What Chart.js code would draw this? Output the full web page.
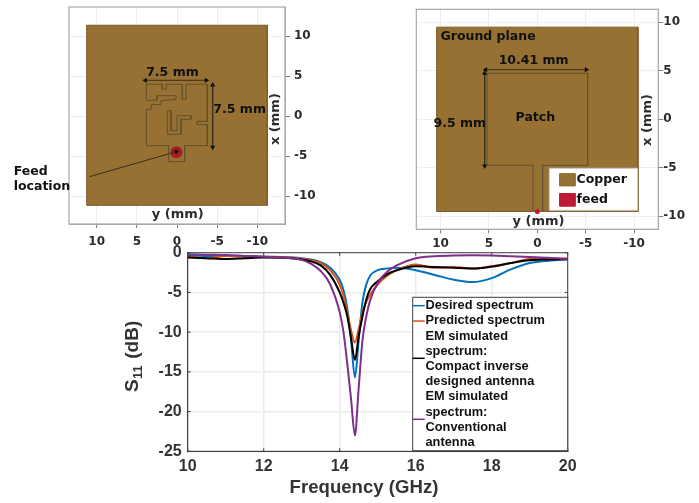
<!DOCTYPE html>
<html>
<head>
<meta charset="utf-8">
<script src="https://cdn.jsdelivr.net/npm/chart.js@4"></script>
<style>
  html, body { margin: 0; background: #fff; }
  canvas { position: absolute; left: 0; top: 0; }
</style>
</head>
<body>
<canvas id="left" width="699" height="503"></canvas>
<canvas id="right" width="699" height="503"></canvas>
<canvas id="main" width="699" height="503"></canvas>
<script>
// S11 spectra
const freq = [10, 10.5, 11, 11.5, 12, 12.5, 13, 13.25, 13.5, 13.75, 14, 14.1, 14.2, 14.3, 14.4, 14.5, 14.6, 14.7, 14.8, 15, 15.25, 15.5, 16, 16.5, 17, 17.5, 18, 18.5, 19, 19.5, 20];
const desired = [-0.3, -0.4, -0.4, -0.4, -0.5, -0.55, -0.7, -0.85, -1.2, -1.9, -3.4, -4.7, -7, -11, -15.7, -11, -6.2, -4, -2.9, -2.2, -2, -1.9, -2.2, -2.8, -3.4, -3.7, -3.2, -2.1, -1.3, -1, -0.85];
const predicted = [-0.5, -0.7, -0.4, -0.5, -0.5, -0.55, -0.75, -0.95, -1.3, -2.2, -4, -5.4, -7.5, -9.8, -11.3, -9.6, -7.5, -6.2, -5.3, -4, -2.9, -2.2, -1.5, -1.9, -1.8, -2, -1.7, -1.3, -0.8, -0.75, -0.7];
const simulated = [-0.6, -0.7, -0.8, -0.7, -0.6, -0.65, -0.85, -1.1, -1.6, -2.8, -5, -6.3, -8, -10.8, -13.5, -10.5, -8, -5.9, -4.6, -3.6, -2.7, -2.2, -1.7, -1.8, -1.9, -2, -1.75, -1.3, -0.95, -0.85, -0.8];
const conventional = [-0.2, -0.25, -0.3, -0.4, -0.5, -0.6, -0.9, -1.4, -2.3, -4, -7.5, -10, -14, -18.5, -23, -17, -11, -8, -6, -3.8, -2.4, -1.6, -0.7, -0.45, -0.35, -0.33, -0.35, -0.45, -0.55, -0.65, -0.8];
const freqTicks = [10, 12, 14, 16, 18, 20];
const s11Ticks = [0, -5, -10, -15, -20, -25];
const mmTicksX = [10, 5, 0, -5, -10];
const mmTicksY = [10, 5, 0, -5, -10];

// compact antenna, (y, x) in mm
const boardY = [11.25, -11.25, -11.25, 11.25, 11.25];
const boardX = [11.38, 11.38, -11.13, -11.13, 11.38];
const compactY = [3.82, 1.83, 1.83, 1.33, 1.33, -0.66, -0.66, -1.12, -1.12, -3.78, -3.78, -2.53, -2.53, -3.78, -3.78, -0.95, -0.95, 1.04, 1.04, 3.82, 3.82, 3.2, 3.2, 1.99, 1.99, 0.12, 0.12, 2.49, 2.49, 3.82, 3.82];
const compactX = [4, 4, 3.38, 3.38, 4, 4, 2.13, 2.13, 4, 4, -0.63, -0.63, -1.04, -1.04, -3.67, -3.67, -5.67, -5.67, -3.67, -3.67, 0.88, 0.88, 1.46, 1.46, 1.96, 2.13, 2.58, 2.58, 2, 2, 4];
const slotY = [1.2, 0.75, 0.75, 0, 0, -1.74, -1.74, -0.5, -0.5, 1.2, 1.2];
const slotX = [0.71, 0.71, -1.79, -1.79, 0.08, 0.08, -0.38, -0.38, -2.25, -2.25, 0.71];

// conventional antenna, (y, x) in mm
const groundY = [10.4, -10.4, -10.4, 10.4, 10.4];
const groundX = [9.5, 9.5, -9.5, -9.5, 9.5];
const patchY = [0.45, 0.45, 5.2, 5.2, -5.2, -5.2, -0.55, -0.55];
const patchX = [-9.5, -4.75, -4.75, 4.75, 4.75, -4.75, -4.75, -9.5];
const keyBoxY = [-1.24, -10.35, -10.35, -1.24, -1.24];
const keyBoxX = [-5.05, -5.05, -9.38, -9.38, -5.05];
const copperKeyY = [-2.3, -3.9, -3.9, -2.3, -2.3];
const copperKeyX = [-5.6, -5.6, -6.87, -6.87, -5.6];
const feedKeyY = [-2.3, -3.9, -3.9, -2.3, -2.3];
const feedKeyX = [-7.65, -7.65, -8.96, -8.96, -7.65];

const COPPER = '#977033';
const EDGE = '#65502a';
const MM_FONT = "'DejaVu Sans'";
const PLOT_FONT = "'Liberation Sans'";

function path(ys, xs, opts) {
  return Object.assign({
    data: ys.map((y, i) => ({x: y, y: xs[i]})),
    showLine: true,
    pointRadius: 0,
    borderColor: EDGE,
    borderWidth: 1,
    fill: false
  }, opts);
}

function arrow(ys, xs, rotations, radii) {
  return {
    data: ys.map((y, i) => ({x: y, y: xs[i]})),
    showLine: true,
    borderColor: '#3a2f18',
    borderWidth: 1,
    pointStyle: 'triangle',
    pointRadius: radii || 3,
    pointRotation: rotations,
    pointBackgroundColor: '#111',
    pointBorderColor: '#111',
    pointBorderWidth: 0,
    fill: false
  };
}

function dot(y, x, radius, color) {
  return {
    data: [{x: y, y: x}],
    pointRadius: radius,
    pointBackgroundColor: color,
    pointBorderWidth: 0
  };
}

function notesPlugin(notes) {
  return {
    id: 'notes',
    afterDatasetsDraw(chart) {
      const {ctx, chartArea: a, scales} = chart;
      ctx.save();
      ctx.strokeStyle = '#a8a8a8';
      ctx.lineWidth = 1.2;
      ctx.strokeRect(a.left, a.top, a.width, a.height);
      ctx.textBaseline = 'middle';
      notes.forEach(n => {
        ctx.save();
        ctx.translate(scales.x.getPixelForValue(n.y), scales.y.getPixelForValue(n.x));
        if (n.rotate) ctx.rotate(n.rotate);
        ctx.font = `bold ${n.size || 12.5}px ${MM_FONT}`;
        ctx.fillStyle = n.color || '#111';
        ctx.textAlign = n.align || 'center';
        ctx.fillText(n.text, 0, 0);
        ctx.restore();
      });
      ctx.restore();
    }
  };
}

function mmChart(id, box, limY, limX, pad, datasets, notes) {
  const tickFont = {family: MM_FONT, weight: 'bold', size: 12};
  new Chart(document.getElementById(id), {
    type: 'scatter',
    data: {datasets},
    plugins: [notesPlugin(notes)],
    options: {
      responsive: false,
      animation: false,
      devicePixelRatio: 1,
      layout: {padding: {left: box.left, top: box.top, right: 0, bottom: 0}},
      plugins: {legend: {display: false}, tooltip: {enabled: false}},
      scales: {
        x: {
          type: 'linear', reverse: true, min: -limY, max: limY, position: 'bottom',
          afterBuildTicks: s => { s.ticks = mmTicksX.map(value => ({value})); },
          afterFit: s => { s.height = 503 - box.bottom; s.paddingLeft = 0; s.paddingRight = 0; },
          grid: {color: '#eeeeee', lineWidth: 1, tickColor: '#808080', tickLength: 4},
          border: {color: '#a8a8a8'},
          ticks: {font: tickFont, color: '#2b2b2b', maxRotation: 0, autoSkip: false, padding: pad.x}
        },
        y: {
          type: 'linear', min: limX[0], max: limX[1], position: 'right',
          afterBuildTicks: s => { s.ticks = mmTicksY.map(value => ({value})); },
          afterFit: s => { s.width = 699 - box.right; s.paddingTop = 0; s.paddingBottom = 0; },
          grid: {color: '#eeeeee', lineWidth: 1, tickColor: '#808080', tickLength: 5},
          border: {color: '#a8a8a8'},
          ticks: {font: tickFont, color: '#2b2b2b', autoSkip: false, padding: pad.y}
        }
      }
    }
  });
}

mmChart('left', {left: 69, top: 7, right: 285, bottom: 224}, 13.45, [-13.46, 13.66], {x: 7, y: 4}, [
  arrow([10.87, 0.08], [-7.54, -4.42], [0, 70], [0, 3]),
  arrow([3.94, -3.65], [4.5, 4.5], [-90, 90]),
  arrow([-4.44, -4.44], [3.92, -3.87], [0, 180]),
  dot(0.08, -4.5, 6, '#a51c24'),
  path(slotY, slotX),
  path(compactY, compactX),
  path(boardY, boardX, {fill: 'shape', backgroundColor: COPPER, borderColor: '#7d5d2a'})
], [
  {text: '7.5 mm', y: 0.57, x: 5.4},
  {text: '7.5 mm', y: -7.8, x: 0.8},
  {text: 'Feed', y: 20.34, x: -6.93, align: 'left'},
  {text: 'location', y: 20.34, x: -8.8, align: 'left'},
  {text: 'y (mm)', y: -0.1, x: -12.3, size: 13, color: '#2b2b2b'},
  {text: 'x (mm)', y: -12.3, x: -0.35, size: 13, color: '#2b2b2b', rotate: -Math.PI / 2}
]);

mmChart('right', {left: 416.3, top: 9.3, right: 658.3, bottom: 229.3}, 12.5, [-11.34, 11.34], {x: 3, y: 0}, [
  dot(0, -9.5, 2.5, '#c0172f'),
  arrow([5.33, -5.06], [5.12, 5.12], [-90, 90]),
  arrow([5.44, 5.44], [4.74, -4.81], [0, 180]),
  path(copperKeyY, copperKeyX, {fill: 'shape', backgroundColor: COPPER, borderColor: COPPER}),
  path(feedKeyY, feedKeyX, {fill: 'shape', backgroundColor: '#bd1a35', borderColor: '#bd1a35'}),
  path(keyBoxY, keyBoxX, {fill: 'shape', backgroundColor: '#ffffff', borderColor: '#c8c8c8'}),
  path(patchY, patchX),
  path(groundY, groundX, {fill: 'shape', backgroundColor: COPPER, borderColor: '#7d5d2a'})
], [
  {text: 'Ground plane', y: 10, x: 8.5, align: 'left'},
  {text: '10.41 mm', y: 0.38, x: 6},
  {text: 'Patch', y: 0.2, x: 0.2},
  {text: '9.5 mm', y: 8, x: -0.5},
  {text: 'Copper', y: -4.05, x: -6.2, align: 'left'},
  {text: 'feed', y: -4.05, x: -8.25, align: 'left'},
  {text: 'y (mm)', y: -0.13, x: -10.55, size: 13, color: '#2b2b2b'},
  {text: 'x (mm)', y: -11.35, x: -0.07, size: 13, color: '#2b2b2b', rotate: -Math.PI / 2}
]);

const spectra = [
  {lines: ['Desired spectrum'], swatch: 305.7, values: desired, color: '#0072bd', order: 4},
  {lines: ['Predicted spectrum'], swatch: 321, values: predicted, color: '#d95319', order: 3},
  {lines: ['EM simulated', 'spectrum:', 'Compact inverse', 'designed antenna'], swatch: 358.3, values: simulated, color: '#000000', order: 2},
  {lines: ['EM simulated', 'spectrum:', 'Conventional', 'antenna'], swatch: 419.3, values: conventional, color: '#7e2f8e', order: 1}
];

const framePlugin = {
  id: 'frame',
  afterDatasetsDraw(chart) {
    const {ctx, chartArea: a, scales} = chart;
    ctx.save();
    ctx.strokeStyle = '#404040';
    ctx.lineWidth = 1;
    ctx.strokeRect(a.left, a.top, a.width, a.height);
    // inward ticks
    ctx.beginPath();
    freqTicks.forEach(v => {
      const px = scales.x.getPixelForValue(v);
      ctx.moveTo(px, a.bottom); ctx.lineTo(px, a.bottom - 3);
      ctx.moveTo(px, a.top); ctx.lineTo(px, a.top + 3);
    });
    s11Ticks.forEach(v => {
      const py = scales.y.getPixelForValue(v);
      ctx.moveTo(a.left, py); ctx.lineTo(a.left + 3, py);
      ctx.moveTo(a.right, py); ctx.lineTo(a.right - 3, py);
    });
    ctx.stroke();

    // legend
    const lx = 412.7, ly = 297.3, lw = 155, lh = 153.4, rowH = 15.2;
    ctx.fillStyle = '#fff';
    ctx.fillRect(lx, ly, lw, lh);
    ctx.strokeStyle = '#404040';
    ctx.strokeRect(lx, ly, lw, lh);
    ctx.font = `bold 12.8px ${PLOT_FONT}`;
    ctx.textBaseline = 'middle';
    ctx.textAlign = 'left';
    let row = 0;
    spectra.forEach(s => {
      ctx.strokeStyle = s.color;
      ctx.lineWidth = 1.5;
      ctx.beginPath();
      ctx.moveTo(lx, s.swatch); ctx.lineTo(lx + 12, s.swatch);
      ctx.stroke();
      ctx.fillStyle = '#111';
      s.lines.forEach(t => {
        ctx.fillText(t, 425.5, ly + 8.4 + row * rowH);
        row++;
      });
    });

    // x axis title sits left of the plot centre in the original
    ctx.fillStyle = '#333';
    ctx.textAlign = 'center';
    ctx.font = `bold 18.6px ${PLOT_FONT}`;
    ctx.fillText('Frequency (GHz)', 364, 488);

    // S11 (dB), rotated with a subscript
    ctx.translate(133, 356);
    ctx.rotate(-Math.PI / 2);
    ctx.textAlign = 'left';
    ctx.font = `bold 19px ${PLOT_FONT}`;
    ctx.fillText('S', -36, 0);
    ctx.font = `bold 13px ${PLOT_FONT}`;
    ctx.fillText('11', -23, 5);
    ctx.font = `bold 19px ${PLOT_FONT}`;
    ctx.fillText(' (dB)', -8, 0);
    ctx.restore();
  }
};

const plotFont = {family: PLOT_FONT, weight: 'bold', size: 16};
new Chart(document.getElementById('main'), {
  type: 'line',
  data: {
    datasets: spectra.map(s => ({
      label: s.lines.join(' '),
      data: freq.map((f, i) => ({x: f, y: s.values[i]})),
      borderColor: s.color,
      borderWidth: 2,
      pointRadius: 0,
      cubicInterpolationMode: 'monotone',
      order: s.order
    }))
  },
  plugins: [framePlugin],
  options: {
    responsive: false,
    animation: false,
    devicePixelRatio: 1,
    layout: {padding: {left: 0, top: 252.7, right: 131.3, bottom: 0}},
    plugins: {legend: {display: false}, tooltip: {enabled: false}},
    scales: {
      x: {
        type: 'linear', min: 10, max: 20,
        afterBuildTicks: s => { s.ticks = freqTicks.map(value => ({value})); },
        afterFit: s => { s.height = 503 - 451.3; },
        grid: {color: '#ebebeb', lineWidth: 1.5, drawTicks: false},
        border: {color: '#404040'},
        ticks: {font: plotFont, color: '#333', maxRotation: 0, autoSkip: false, padding: 6}
      },
      y: {
        type: 'linear', min: -25, max: 0,
        afterBuildTicks: s => { s.ticks = s11Ticks.map(value => ({value})); },
        afterFit: s => { s.width = 187.7; },
        grid: {color: '#ebebeb', lineWidth: 1.5, drawTicks: false},
        border: {color: '#404040'},
        ticks: {font: plotFont, color: '#333', autoSkip: false, padding: 6}
      }
    }
  }
});
</script>
</body>
</html>
